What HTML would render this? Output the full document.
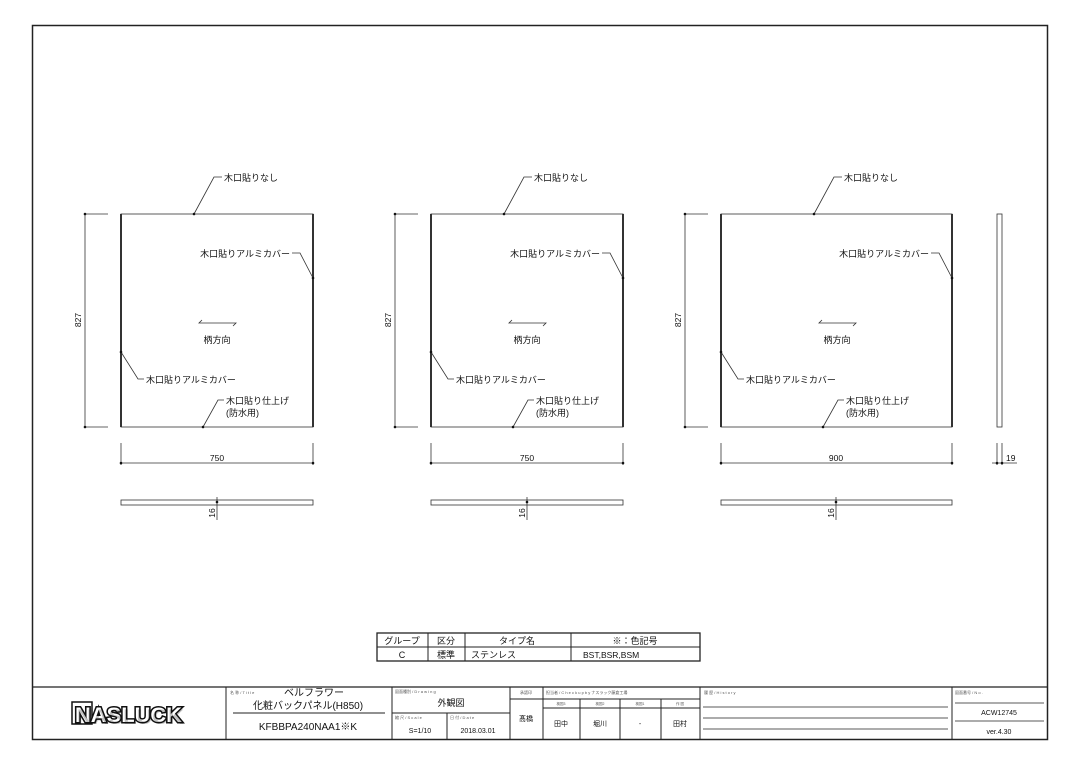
<!DOCTYPE html>
<html><head><meta charset="utf-8"><style>
html,body{margin:0;padding:0;background:#fff;}
svg{display:block;font-family:"Liberation Sans","Noto Sans CJK JP",sans-serif;}
</style></head><body>
<svg width="1080" height="764" viewBox="0 0 1080 764" xmlns="http://www.w3.org/2000/svg">
<rect x="32.5" y="25.5" width="1015" height="714" fill="none" stroke="#222" stroke-width="1.5"/>

<g font-size="9" fill="#111">
<!-- Panel 1 -->
<g stroke="#333" fill="none" stroke-width="0.8">
<rect x="121" y="214" width="192" height="213"/>
<line x1="121" y1="214" x2="121" y2="427" stroke-width="2"/>
<line x1="313" y1="214" x2="313" y2="427" stroke-width="2"/>
<line x1="85" y1="214" x2="85" y2="427"/><line x1="85" y1="214" x2="108" y2="214"/><line x1="85" y1="427" x2="108" y2="427"/>
<line x1="121" y1="443" x2="121" y2="465"/><line x1="313" y1="443" x2="313" y2="465"/><line x1="121" y1="463" x2="313" y2="463"/>
<rect x="121" y="500" width="192" height="5"/><line x1="217" y1="497" x2="217" y2="520"/>
<polyline points="194,214 214,177 222,177"/>
<polyline points="313,278 300,253 292,253"/>
<polyline points="121,352 138,379 144,379"/>
<polyline points="203,427 218,400 224,400"/>
<polyline points="202,320 199,323 236,323 233,326"/>
</g>
<g fill="#111"><circle cx="194" cy="214" r="1.3"/><circle cx="313" cy="278" r="1.3"/><circle cx="121" cy="352" r="1.3"/><circle cx="203" cy="427" r="1.3"/><circle cx="85" cy="214" r="1.3"/><circle cx="85" cy="427" r="1.3"/><circle cx="121" cy="463" r="1.3"/><circle cx="313" cy="463" r="1.3"/><circle cx="217" cy="502" r="1.3"/></g>
<text x="224" y="181">木口貼りなし</text>
<text x="290" y="257" text-anchor="end">木口貼りアルミカバー</text>
<text x="146" y="383">木口貼りアルミカバー</text>
<text x="226" y="404">木口貼り仕上げ</text><text x="226" y="416">(防水用)</text>
<text x="217" y="343" text-anchor="middle">柄方向</text>
<text x="217" y="461" text-anchor="middle" font-size="8.5">750</text>
<text transform="translate(81,320) rotate(-90)" text-anchor="middle" font-size="8.5">827</text>
<text transform="translate(215,513) rotate(-90)" text-anchor="middle" font-size="8.5">16</text>

<!-- Panel 2 -->
<g transform="translate(310,0)">
<g stroke="#333" fill="none" stroke-width="0.8">
<rect x="121" y="214" width="192" height="213"/>
<line x1="121" y1="214" x2="121" y2="427" stroke-width="2"/>
<line x1="313" y1="214" x2="313" y2="427" stroke-width="2"/>
<line x1="85" y1="214" x2="85" y2="427"/><line x1="85" y1="214" x2="108" y2="214"/><line x1="85" y1="427" x2="108" y2="427"/>
<line x1="121" y1="443" x2="121" y2="465"/><line x1="313" y1="443" x2="313" y2="465"/><line x1="121" y1="463" x2="313" y2="463"/>
<rect x="121" y="500" width="192" height="5"/><line x1="217" y1="497" x2="217" y2="520"/>
<polyline points="194,214 214,177 222,177"/>
<polyline points="313,278 300,253 292,253"/>
<polyline points="121,352 138,379 144,379"/>
<polyline points="203,427 218,400 224,400"/>
<polyline points="202,320 199,323 236,323 233,326"/>
</g>
<g fill="#111"><circle cx="194" cy="214" r="1.3"/><circle cx="313" cy="278" r="1.3"/><circle cx="121" cy="352" r="1.3"/><circle cx="203" cy="427" r="1.3"/><circle cx="85" cy="214" r="1.3"/><circle cx="85" cy="427" r="1.3"/><circle cx="121" cy="463" r="1.3"/><circle cx="313" cy="463" r="1.3"/><circle cx="217" cy="502" r="1.3"/></g>
<text x="224" y="181">木口貼りなし</text>
<text x="290" y="257" text-anchor="end">木口貼りアルミカバー</text>
<text x="146" y="383">木口貼りアルミカバー</text>
<text x="226" y="404">木口貼り仕上げ</text><text x="226" y="416">(防水用)</text>
<text x="217" y="343" text-anchor="middle">柄方向</text>
<text x="217" y="461" text-anchor="middle" font-size="8.5">750</text>
<text transform="translate(81,320) rotate(-90)" text-anchor="middle" font-size="8.5">827</text>
<text transform="translate(215,513) rotate(-90)" text-anchor="middle" font-size="8.5">16</text>
</g>

<!-- Panel 3 -->
<g stroke="#333" fill="none" stroke-width="0.8">
<rect x="721" y="214" width="231" height="213"/>
<line x1="721" y1="214" x2="721" y2="427" stroke-width="2"/>
<line x1="952" y1="214" x2="952" y2="427" stroke-width="2"/>
<line x1="685" y1="214" x2="685" y2="427"/><line x1="685" y1="214" x2="708" y2="214"/><line x1="685" y1="427" x2="708" y2="427"/>
<line x1="721" y1="443" x2="721" y2="465"/><line x1="952" y1="443" x2="952" y2="465"/><line x1="721" y1="463" x2="952" y2="463"/>
<rect x="721" y="500" width="231" height="5"/><line x1="836" y1="497" x2="836" y2="520"/>
<polyline points="814,214 834,177 842,177"/>
<polyline points="952,278 939,253 931,253"/>
<polyline points="721,352 738,379 744,379"/>
<polyline points="823,427 838,400 844,400"/>
<polyline points="822,320 819,323 856,323 853,326"/>
<rect x="997" y="214" width="5" height="213"/>
<line x1="997" y1="443" x2="997" y2="465"/><line x1="1002" y1="443" x2="1002" y2="465"/>
<line x1="992" y1="463" x2="1017" y2="463"/>
</g>
<g fill="#111"><circle cx="814" cy="214" r="1.3"/><circle cx="952" cy="278" r="1.3"/><circle cx="721" cy="352" r="1.3"/><circle cx="823" cy="427" r="1.3"/><circle cx="685" cy="214" r="1.3"/><circle cx="685" cy="427" r="1.3"/><circle cx="721" cy="463" r="1.3"/><circle cx="952" cy="463" r="1.3"/><circle cx="836" cy="502" r="1.3"/><circle cx="997" cy="463" r="1.3"/><circle cx="1002" cy="463" r="1.3"/></g>
<text x="844" y="181">木口貼りなし</text>
<text x="929" y="257" text-anchor="end">木口貼りアルミカバー</text>
<text x="746" y="383">木口貼りアルミカバー</text>
<text x="846" y="404">木口貼り仕上げ</text><text x="846" y="416">(防水用)</text>
<text x="837" y="343" text-anchor="middle">柄方向</text>
<text x="836" y="461" text-anchor="middle" font-size="8.5">900</text>
<text transform="translate(681,320) rotate(-90)" text-anchor="middle" font-size="8.5">827</text>
<text transform="translate(834,513) rotate(-90)" text-anchor="middle" font-size="8.5">16</text>
<text x="1006" y="461" font-size="8.5">19</text>
</g>

<!-- Type table -->
<g stroke="#222" fill="none" stroke-width="1">
<rect x="377" y="633" width="323" height="28" stroke-width="1.3"/>
<line x1="377" y1="647" x2="700" y2="647"/>
<line x1="428" y1="633" x2="428" y2="661"/>
<line x1="465" y1="633" x2="465" y2="661"/>
<line x1="571" y1="633" x2="571" y2="661"/>
</g>
<g font-size="9" fill="#111">
<text x="402" y="644" text-anchor="middle">グループ</text>
<text x="446" y="644" text-anchor="middle">区分</text>
<text x="517" y="644" text-anchor="middle">タイプ名</text>
<text x="635" y="644" text-anchor="middle">※：色記号</text>
<text x="402" y="658" text-anchor="middle">C</text>
<text x="446" y="658" text-anchor="middle">標準</text>
<text x="471" y="658">ステンレス</text>
<text x="583" y="658" font-size="8.5">BST,BSR,BSM</text>
</g>

<!-- Title block -->
<g stroke="#222" fill="none" stroke-width="1">
<line x1="32" y1="687" x2="1047" y2="687" stroke-width="1.3"/>
<line x1="226" y1="687" x2="226" y2="739"/>
<line x1="392" y1="687" x2="392" y2="739"/>
<line x1="233" y1="713" x2="385" y2="713"/>
<line x1="392" y1="713" x2="510" y2="713"/>
<line x1="447" y1="713" x2="447" y2="739"/>
<line x1="510" y1="687" x2="510" y2="739"/>
<line x1="543" y1="687" x2="543" y2="739"/>
<line x1="510" y1="699" x2="700" y2="699"/>
<line x1="543" y1="708" x2="700" y2="708"/>
<line x1="580" y1="699" x2="580" y2="739"/>
<line x1="620" y1="699" x2="620" y2="739"/>
<line x1="661" y1="699" x2="661" y2="739"/>
<line x1="700" y1="687" x2="700" y2="739"/>
<line x1="703" y1="707" x2="948" y2="707" stroke-width="0.7"/>
<line x1="703" y1="718" x2="948" y2="718" stroke-width="0.7"/>
<line x1="703" y1="729" x2="948" y2="729" stroke-width="0.7"/>
<line x1="952" y1="687" x2="952" y2="739"/>
<line x1="955" y1="703" x2="1044" y2="703" stroke-width="0.7"/>
<line x1="955" y1="721" x2="1044" y2="721" stroke-width="0.7"/>
</g>
<g fill="#111">
<rect x="72" y="702" width="20" height="22" fill="none" stroke="#111" stroke-width="1.5"/>
<text x="75" y="722" textLength="107" lengthAdjust="spacingAndGlyphs" font-size="21" font-weight="bold" fill="#fff" stroke="#111" stroke-width="3" paint-order="stroke">NASLUCK</text>
<text x="77" y="724" textLength="107" lengthAdjust="spacingAndGlyphs" font-size="21" font-weight="bold" fill="#111" opacity="0.25">NASLUCK</text>
<text x="230" y="694" font-size="4" fill="#555">名 称 / T i t l e</text>
<text x="284" y="696" font-size="10">ベルフラワー</text>
<text x="308" y="709" font-size="10" text-anchor="middle">化粧バックパネル(H850)</text>
<text x="308" y="730" font-size="10" text-anchor="middle">KFBBPA240NAA1※K</text>
<text x="395" y="693" font-size="4" fill="#555">図面種別 / D r a w i n g</text>
<text x="451" y="706" font-size="9" text-anchor="middle">外観図</text>
<text x="395" y="719" font-size="4" fill="#555">縮 尺 / S c a l e</text>
<text x="450" y="719" font-size="4" fill="#555">日 付 / D a t e</text>
<text x="420" y="733" font-size="7" text-anchor="middle">S=1/10</text>
<text x="478" y="733" font-size="7" text-anchor="middle">2018.03.01</text>
<text x="526" y="694" font-size="4" text-anchor="middle" fill="#555">承認印</text>
<text x="526" y="721" font-size="7" text-anchor="middle">髙橋</text>
<text x="546" y="694" font-size="4" fill="#555">担当者 / C h e c k  u p  b y  ナスラック藤倉工場</text>
<text x="561" y="705" font-size="3.5" text-anchor="middle" fill="#555">検図3</text>
<text x="600" y="705" font-size="3.5" text-anchor="middle" fill="#555">検図2</text>
<text x="640" y="705" font-size="3.5" text-anchor="middle" fill="#555">検図1</text>
<text x="680" y="705" font-size="3.5" text-anchor="middle" fill="#555">作 図</text>
<text x="561" y="726" font-size="7" text-anchor="middle">田中</text>
<text x="600" y="726" font-size="7" text-anchor="middle">堀川</text>
<text x="640" y="726" font-size="7" text-anchor="middle">-</text>
<text x="680" y="726" font-size="7" text-anchor="middle">田村</text>
<text x="704" y="694" font-size="4" fill="#555">履 歴 / H i s t o r y</text>
<text x="955" y="694" font-size="4" fill="#555">図面番号 / N o .</text>
<text x="999" y="715" font-size="7" text-anchor="middle">ACW12745</text>
<text x="999" y="734" font-size="7" text-anchor="middle">ver.4.30</text>
</g>
</svg>
</body></html>
